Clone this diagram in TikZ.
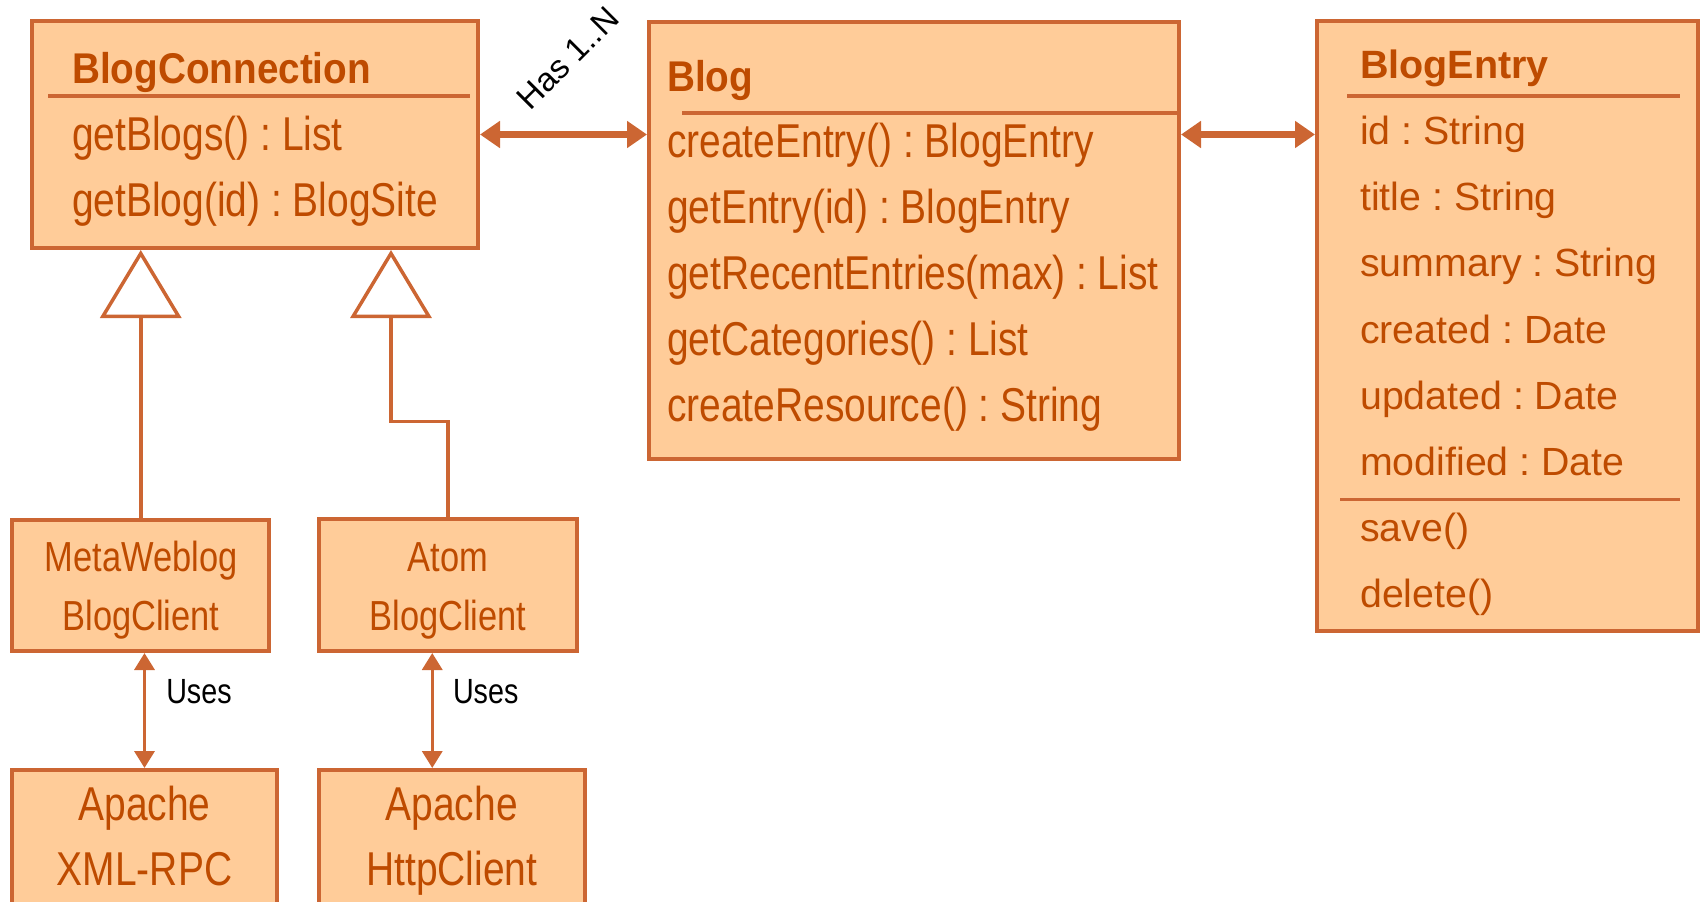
\documentclass[tikz,border=0pt]{standalone}
\usepackage{fontspec}
\setmainfont{Liberation Sans}
\newfontfamily\narrowfont[FakeStretch=0.82]{Liberation Sans}
\newfontfamily\headfont[FakeStretch=0.9]{Liberation Sans}
\usetikzlibrary{arrows.meta}
\frenchspacing

\begin{document}
\begin{tikzpicture}[x=1pt, y=-1pt]

\def\width{1703}
\def\height{902}

% Colours
\definecolor{boxfill}{RGB}{255,204,153}
\definecolor{boxline}{RGB}{204,102,51}
\definecolor{boxtext}{RGB}{190,75,0}

% Styles
\tikzstyle{class box}=[rectangle, draw=boxline, fill=boxfill, line width=4pt, inner sep=0pt]
\tikzstyle{divider}=[draw=boxline, line width=3.5pt]
\tikzstyle{member}=[anchor=base west, inner sep=0pt, text=boxtext, font=\narrowfont\fontsize{47.5}{57}\selectfont]
\tikzstyle{head}=[member, font=\headfont\bfseries\fontsize{43}{52}\selectfont]
\tikzstyle{entry member}=[member, font=\fontsize{39.3}{48}\selectfont]
\tikzstyle{entry head}=[member, font=\bfseries\fontsize{39.5}{48}\selectfont]
\tikzstyle{client}=[anchor=base, inner sep=0pt, text=boxtext, font=\narrowfont\fontsize{42}{50}\selectfont]
\tikzstyle{library}=[client, font=\narrowfont\fontsize{47.5}{57}\selectfont]
\tikzstyle{note}=[inner sep=0pt, text=black, font=\narrowfont\fontsize{35}{42}\selectfont]
\tikzstyle{multiplicity}=[inner sep=0pt, text=black, font=\fontsize{33}{40}\selectfont]
\tikzstyle{assoc}=[draw=boxline, line width=7pt, {Triangle[length=20pt, width=26pt]}-{Triangle[length=20pt, width=26pt]}]
\tikzstyle{uses}=[draw=boxline, line width=3.5pt, {Triangle[length=17pt, width=20pt]}-{Triangle[length=17pt, width=20pt]}]
\tikzstyle{inherit}=[draw=boxline, line width=3.5pt, -{Triangle[open, length=68pt, width=81pt]}]

\useasboundingbox (0,0) rectangle (\width,\height);
\clip (0,0) rectangle (\width,\height);

% BlogConnection
\node[class box, minimum width=446pt, minimum height=227pt] (conn) at (255,134.5) {};
\node[head] (conn-name) at (72,83) {BlogConnection};
\draw[divider] (48,96) -- (470,96);
\node[member] (conn-m1) at (72,150) {getBlogs() : List};
\node[member] (conn-m2) at (72,216.5) {getBlog(id) : BlogSite};

% Blog
\node[class box, minimum width=530pt, minimum height=437pt] (blog) at (914,240.5) {};
\node[head] (blog-name) at (667,91) {Blog};
\draw[divider] (682,113) -- (1181,113);
\node[member] (blog-m1) at (667,157) {createEntry() : BlogEntry};
\node[member] (blog-m2) at (667,223.2) {getEntry(id) : BlogEntry};
\node[member] (blog-m3) at (667,289.4) {getRecentEntries(max) : List};
\node[member] (blog-m4) at (667,355.6) {getCategories() : List};
\node[member] (blog-m5) at (667,421.8) {createResource() : String};

% BlogEntry
\node[class box, minimum width=381pt, minimum height=610pt] (entry) at (1507.5,326) {};
\node[entry head] (entry-name) at (1360,78) {BlogEntry};
\draw[divider] (1347,96) -- (1680,96);
\node[entry member] (entry-a1) at (1360,144.5) {id : String};
\node[entry member] (entry-a2) at (1360,210.7) {title : String};
\node[entry member] (entry-a3) at (1360,276.9) {summary : String};
\node[entry member] (entry-a4) at (1360,343.1) {created : Date};
\node[entry member] (entry-a5) at (1360,409.3) {updated : Date};
\node[entry member] (entry-a6) at (1360,475.5) {modified : Date};
\draw[divider] (1340,499.5) -- (1680,499.5);
\node[entry member] (entry-m1) at (1360,541.7) {save()};
\node[entry member] (entry-m2) at (1360,607.9) {delete()};

% Clients
\node[class box, minimum width=257pt, minimum height=131pt] (meta) at (140.75,585.5) {};
\node[client] (meta-l1) at (141,571) {MetaWeblog};
\node[client] (meta-l2) at (141,630.5) {BlogClient};
\node[class box, minimum width=258pt, minimum height=132pt] (atom) at (448,585) {};
\node[client] (atom-l1) at (448,571) {Atom};
\node[client] (atom-l2) at (448,630.5) {BlogClient};

% Libraries
\node[class box, minimum width=265pt, minimum height=140pt] (xmlrpc) at (144.5,840) {};
\node[library] (xmlrpc-l1) at (144.5,820) {Apache};
\node[library] (xmlrpc-l2) at (144.5,885) {XML-RPC};
\node[class box, minimum width=265.5pt, minimum height=140pt] (http) at (451.75,840) {};
\node[library] (http-l1) at (451.75,820) {Apache};
\node[library] (http-l2) at (451.75,885) {HttpClient};

% Associations
\draw[assoc] (conn.east) -- (conn.east -| blog.west)
  node[midway, xshift=4.5pt, yshift=76pt, rotate=45, multiplicity] (has) {Has 1..N};
\draw[assoc] (blog.east |- conn.east) -- (entry.west |- conn.east);

% Generalisations
\coordinate (atom-apex) at ([xshift=361pt]conn.south west);
\draw[inherit] (meta.north) -- (meta.north |- conn.south);
\draw[inherit] (atom.north) -- ++(0,-95.3) -| (atom-apex);

% Uses
\coordinate (http-port) at ([xshift=-19.5pt]http.north);
\draw[uses] (xmlrpc.north |- meta.south) -- (xmlrpc.north)
  node[pos=0.34, anchor=west, xshift=20pt, note] (uses1) {Uses};
\draw[uses] (http-port |- atom.south) -- (http-port)
  node[pos=0.34, anchor=west, xshift=19pt, note] (uses2) {Uses};

\end{tikzpicture}
\end{document}
